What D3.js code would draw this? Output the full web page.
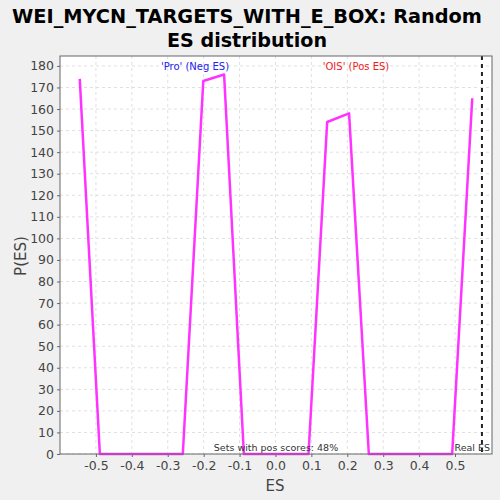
<!DOCTYPE html>
<html>
<head>
<meta charset="utf-8">
<script src="https://cdn.jsdelivr.net/npm/d3@7"></script>
<style>
  body { margin: 0; background: #f0f0f0; }
  svg { display: block; }
</style>
</head>
<body>
<div id="chart"></div>
<script>
// random ES distribution
var esValues = [-0.545, -0.489, -0.258, -0.201, -0.143, -0.088, 0.092, 0.144, 0.205, 0.260, 0.492, 0.548];
var pValues  = [174, 0, 0, 173, 176, 0, 0, 154, 158, 0, 0, 165];
var xTicks = [-0.5, -0.4, -0.3, -0.2, -0.1, 0.0, 0.1, 0.2, 0.3, 0.4, 0.5];
var yTicks = [0, 10, 20, 30, 40, 50, 60, 70, 80, 90, 100, 110, 120, 130, 140, 150, 160, 170, 180];
var realES = 0.575;
var titleLines = ["WEI_MYCN_TARGETS_WITH_E_BOX: Random", "ES distribution"];
var titleWidths = [470, 160];

var svg = d3.select("#chart").append("svg").attr("width", 500).attr("height", 500),
    margin = {top: 56, right: 8, bottom: 46, left: 60},
    width = 500 - margin.left - margin.right,
    height = 500 - margin.top - margin.bottom;

var x = d3.scaleLinear().domain([-0.6, 0.603]).range([0, width]);
var y = d3.scaleLinear().domain([0, 184.6]).range([height, 0]);

svg.append("rect").attr("width", 500).attr("height", 500).attr("fill", "#f0f0f0");

svg.selectAll(".title")
    .data(titleLines)
  .enter().append("text")
    .attr("class", "title")
    .attr("x", 247)
    .attr("y", function(d, i) { return 23 + i * 24; })
    .attr("text-anchor", "middle")
    .attr("font-family", "DejaVu Sans")
    .attr("font-weight", "bold")
    .attr("font-size", 20)
    .attr("textLength", function(d, i) { return titleWidths[i]; })
    .attr("lengthAdjust", "spacingAndGlyphs")
    .attr("fill", "#000")
    .text(function(d) { return d; });

var g = svg.append("g")
    .attr("transform", "translate(" + margin.left + "," + margin.top + ")");

g.append("rect").attr("width", width).attr("height", height).attr("fill", "#fff");

// grid
g.selectAll(".vgrid").data(xTicks).enter().append("line")
    .attr("x1", function(d) { return x(d); }).attr("x2", function(d) { return x(d); })
    .attr("y1", 0).attr("y2", height)
    .attr("stroke", "#e0e0e0").attr("stroke-dasharray", "3,3");
g.selectAll(".hgrid").data(yTicks).enter().append("line")
    .attr("y1", function(d) { return y(d); }).attr("y2", function(d) { return y(d); })
    .attr("x1", 0).attr("x2", width)
    .attr("stroke", "#e0e0e0").attr("stroke-dasharray", "3,3");

var xAxis = g.append("g")
    .attr("transform", "translate(0," + height + ")")
    .call(d3.axisBottom(x).tickValues(xTicks).tickSize(3).tickPadding(4)
      .tickFormat(function(d) { return d.toFixed(1); }));
var yAxis = g.append("g")
    .call(d3.axisLeft(y).tickValues(yTicks).tickSize(3).tickPadding(3));

[xAxis, yAxis].forEach(function(a) {
  a.select(".domain").remove();
  a.selectAll("line").attr("stroke", "#666");
  a.selectAll("text").attr("font-family", "DejaVu Sans").attr("font-size", 12.5).attr("fill", "#444");
});

var line = d3.line()
    .x(function(d) { return x(d[0]); })
    .y(function(d) { return y(d[1]); });

g.append("path")
    .datum(d3.zip(esValues, pValues))
    .attr("d", line)
    .attr("fill", "none")
    .attr("stroke", "#ff33ff")
    .attr("stroke-width", 2.5)
    .attr("stroke-linejoin", "round");

g.append("line")
    .attr("x1", x(realES)).attr("x2", x(realES))
    .attr("y1", 0).attr("y2", height)
    .attr("stroke", "#222").attr("stroke-width", 2).attr("stroke-dasharray", "4,4");

g.append("rect").attr("width", width).attr("height", height)
    .attr("fill", "none").attr("stroke", "#666").attr("stroke-width", 1);

g.append("text").attr("x", 135).attr("y", 14)
    .attr("font-family", "DejaVu Sans").attr("font-size", 10).attr("fill", "#2222ee")
    .attr("text-anchor", "middle").text("'Pro' (Neg ES)");
g.append("text").attr("x", 296).attr("y", 14)
    .attr("font-family", "DejaVu Sans").attr("font-size", 10).attr("fill", "#ee2222")
    .attr("text-anchor", "middle").text("'OIS' (Pos ES)");

g.append("text").attr("x", 216).attr("y", height - 3)
    .attr("font-family", "DejaVu Sans").attr("font-size", 9.5).attr("fill", "#333")
    .attr("text-anchor", "middle").text("Sets with pos scores: 48%");
g.append("text").attr("x", width - 2).attr("y", height - 3)
    .attr("font-family", "DejaVu Sans").attr("font-size", 9.5).attr("fill", "#333")
    .attr("text-anchor", "end").text("Real ES");

svg.append("text")
    .attr("x", 275).attr("y", 491)
    .attr("text-anchor", "middle")
    .attr("font-family", "DejaVu Sans").attr("font-size", 15).attr("fill", "#444")
    .text("ES");
svg.append("text")
    .attr("transform", "translate(26,256) rotate(-90)")
    .attr("text-anchor", "middle")
    .attr("font-family", "DejaVu Sans").attr("font-size", 15).attr("fill", "#444")
    .text("P(ES)");
</script>
</body>
</html>
